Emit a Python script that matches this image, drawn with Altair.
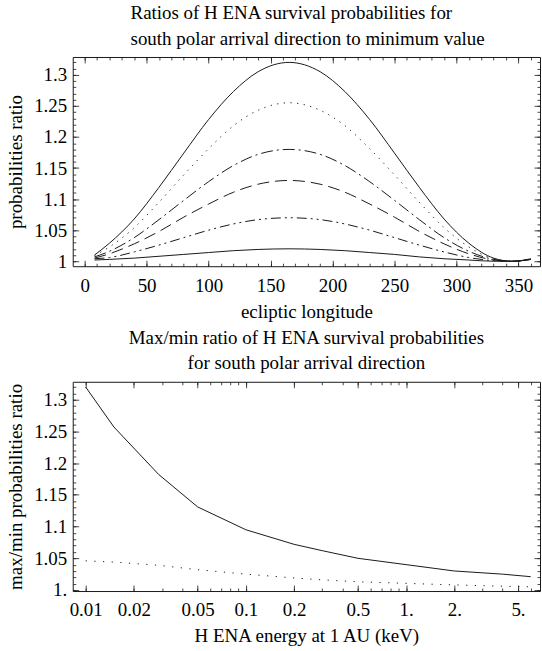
import altair as alt
import pandas as pd

# ---------------- data: top panel (ecliptic longitude vs ratio) ----------------
lon = [8, 20, 40, 60, 80, 100, 120, 140, 165, 190, 210, 230, 250, 270, 290, 310, 330, 345, 360]
ratio_a = [1.010, 1.029, 1.068, 1.119, 1.174, 1.228, 1.273, 1.305, 1.320, 1.305, 1.273, 1.228, 1.174, 1.119, 1.068, 1.029, 1.005, 1.000, 1.004]
ratio_b = [1.009, 1.023, 1.054, 1.095, 1.139, 1.181, 1.218, 1.243, 1.255, 1.243, 1.218, 1.181, 1.139, 1.095, 1.054, 1.023, 1.004, 1.000, 1.004]
ratio_c = [1.007, 1.016, 1.038, 1.067, 1.098, 1.128, 1.154, 1.172, 1.180, 1.172, 1.154, 1.128, 1.098, 1.067, 1.038, 1.016, 1.003, 1.000, 1.003]
ratio_d = [1.005, 1.012, 1.028, 1.048, 1.071, 1.092, 1.111, 1.124, 1.130, 1.124, 1.111, 1.092, 1.071, 1.048, 1.028, 1.012, 1.002, 1.000, 1.003]
ratio_e = [1.004, 1.006, 1.015, 1.026, 1.038, 1.050, 1.060, 1.067, 1.070, 1.067, 1.060, 1.050, 1.038, 1.026, 1.015, 1.006, 1.001, 1.000, 1.003]
ratio_f = [1.002, 1.003, 1.005, 1.008, 1.011, 1.014, 1.017, 1.019, 1.020, 1.019, 1.017, 1.014, 1.011, 1.007, 1.004, 1.002, 1.000, 1.000, 1.003]
series_names = ["a", "b", "c", "d", "e", "f"]

# ---------------- data: bottom panel (energy vs max/min ratio) ----------------
energy = [0.01, 0.015, 0.0286, 0.05, 0.1, 0.2, 0.3, 0.5, 1.0, 2.0, 4.0, 6.0]
maxmin_solid = [1.320, 1.257, 1.182, 1.131, 1.095, 1.072, 1.062, 1.050, 1.040, 1.030, 1.025, 1.021]
maxmin_dotted = [1.046, 1.044, 1.039, 1.032, 1.025, 1.019, 1.016, 1.013, 1.0105, 1.008, 1.006, 1.005]

# tick values
top_x_major = [0, 50, 100, 150, 200, 250, 300, 350]
top_x_minor = list(range(0, 370, 10))
y_major = [1.0, 1.05, 1.1, 1.15, 1.2, 1.25, 1.3]
y_minor = [round(1.0 + 0.01 * i, 2) for i in range(0, 33)]
bot_x_major = [0.01, 0.02, 0.05, 0.1, 0.2, 0.5, 1, 2, 5]
bot_x_minor = [round(m * d, 4) for d in (0.01, 0.1, 1) for m in range(1, 10) if m * d <= 6.5]

FONT = "Liberation Serif"
INK = "#1a1a1a"
LFS = 19    # tick labels
XTFS = 19   # x axis titles
YTFS = 19   # y axis titles
TFS = 19    # chart titles

rows = []
for name, vals in zip(series_names, [ratio_a, ratio_b, ratio_c, ratio_d, ratio_e, ratio_f]):
    for x, v in zip(lon, vals):
        rows.append({"lon": x, "ratio": v, "s": name})
top_df = pd.DataFrame(rows)

bot_df = pd.DataFrame(
    [{"e": x, "r": v, "s": "solid"} for x, v in zip(energy, maxmin_solid)]
    + [{"e": x, "r": v, "s": "dotted"} for x, v in zip(energy, maxmin_dotted)]
)

MAJ = 6
MIN = 3


def major_axis(orient, values, title=None, fmt=None, expr=None, labels=True, lp=8, tp=6, tfs=19):
    kw = dict(orient=orient, values=values, tickSize=MAJ, offset=-MAJ, domain=False,
              grid=False, labels=labels, tickColor=INK, tickWidth=0.8)
    if labels:
        kw.update(labelFont=FONT, labelFontSize=LFS, labelColor="black", labelPadding=lp,
                  labelFlush=False, labelOverlap=False)
        if fmt:
            kw["format"] = fmt
        if expr:
            kw["labelExpr"] = expr
    if title:
        kw.update(title=title, titleFont=FONT, titleFontSize=tfs, titleFontWeight="normal",
                  titleColor="black", titlePadding=tp)
    else:
        kw["title"] = None
    return alt.Axis(**kw)


def minor_axis(orient, values):
    return alt.Axis(orient=orient, values=values, tickSize=MIN, offset=-MIN, domain=False,
                    grid=False, labels=False, title=None, tickColor=INK, tickWidth=0.8)


# ---------------- top panel ----------------
tx = alt.Scale(domain=[-9.6, 367.4], nice=False, zero=False)
ty = alt.Scale(domain=[0.992, 1.3287], nice=False, zero=False)

dash = {"a": None, "b": [1.2, 5.5], "c": [12, 4, 2, 4], "d": [12, 6], "e": [10, 4, 2, 4, 2, 4], "f": None}

top_layers = []
for i, name in enumerate(series_names):
    mk = dict(color=INK, strokeWidth=1.0, interpolate="monotone", clip=True)
    if dash[name]:
        mk["strokeDash"] = dash[name]
    if i == 0:
        xa = major_axis("bottom", top_x_major, title="ecliptic longitude", fmt="d", lp=10, tp=7, tfs=XTFS)
        ya = major_axis("left", y_major, title="probabilities ratio", fmt=".2~f", lp=6, tp=8, tfs=YTFS)
        enc = dict(x=alt.X("lon:Q", scale=tx, axis=xa), y=alt.Y("ratio:Q", scale=ty, axis=ya))
    else:
        enc = dict(x=alt.X("lon:Q", scale=tx, axis=None), y=alt.Y("ratio:Q", scale=ty, axis=None))
    top_layers.append(
        alt.Chart(top_df).transform_filter(alt.datum.s == name).mark_line(**mk).encode(**enc)
    )

ghost = alt.Chart(top_df).mark_line(opacity=0)
top_layers.append(ghost.encode(x=alt.X("lon:Q", scale=tx, axis=minor_axis("bottom", top_x_minor)),
                               y=alt.Y("ratio:Q", scale=ty, axis=minor_axis("left", y_minor))))
top_layers.append(ghost.encode(x=alt.X("lon:Q", scale=tx, axis=major_axis("top", top_x_major, labels=False)),
                               y=alt.Y("ratio:Q", scale=ty, axis=major_axis("right", y_major, labels=False))))
top_layers.append(ghost.encode(x=alt.X("lon:Q", scale=tx, axis=minor_axis("top", top_x_minor)),
                               y=alt.Y("ratio:Q", scale=ty, axis=minor_axis("right", y_minor))))

top = alt.layer(*top_layers).resolve_axis(x="independent", y="independent").properties(
    width=469, height=210,
    title=alt.TitleParams(
        text=["Ratios of H ENA survival probabilities for",
              "south polar arrival direction to minimum value"],
        font=FONT, fontSize=TFS, fontWeight="normal", color="black",
        anchor="start", align="left", frame="group", dx=58, lineHeight=26, offset=8,
    ),
)

# ---------------- bottom panel ----------------
bx = alt.Scale(type="log", domain=[0.0083, 6.86], nice=False)
by = alt.Scale(domain=[0.9984, 1.3283], nice=False, zero=False)

bx_axis = major_axis("bottom", bot_x_major, title="H ENA energy at 1 AU (keV)", fmt=".2~f",
                     expr="datum.value >= 1 ? datum.label + '.' : datum.label", lp=10, tp=7, tfs=XTFS)
by_axis = major_axis("left", y_major, title="max/min probabilities ratio", fmt=".2~f",
                     expr="datum.value == 1 ? '1.' : datum.label", lp=6, tp=8, tfs=YTFS)

bbase = alt.Chart(bot_df)
bot_layers = [
    bbase.transform_filter(alt.datum.s == "solid").mark_line(color=INK, strokeWidth=1.0, clip=True).encode(
        x=alt.X("e:Q", scale=bx, axis=bx_axis), y=alt.Y("r:Q", scale=by, axis=by_axis)),
    bbase.transform_filter(alt.datum.s == "dotted").mark_line(color=INK, strokeWidth=1.0, strokeDash=[1.2, 7.5], clip=True).encode(
        x=alt.X("e:Q", scale=bx, axis=None), y=alt.Y("r:Q", scale=by, axis=None)),
]
bghost = bbase.mark_line(opacity=0)
bot_layers.append(bghost.encode(x=alt.X("e:Q", scale=bx, axis=minor_axis("bottom", bot_x_minor)),
                                y=alt.Y("r:Q", scale=by, axis=minor_axis("left", y_minor))))
bot_layers.append(bghost.encode(x=alt.X("e:Q", scale=bx, axis=major_axis("top", bot_x_major, labels=False)),
                                y=alt.Y("r:Q", scale=by, axis=major_axis("right", y_major, labels=False))))
bot_layers.append(bghost.encode(x=alt.X("e:Q", scale=bx, axis=minor_axis("top", bot_x_minor)),
                                y=alt.Y("r:Q", scale=by, axis=minor_axis("right", y_minor))))

bottom = alt.layer(*bot_layers).resolve_axis(x="independent", y="independent").properties(
    width=469, height=210,
    title=alt.TitleParams(
        text=["Max/min ratio of H ENA survival probabilities",
              "for south polar arrival direction"],
        font=FONT, fontSize=TFS, fontWeight="normal", color="black",
        anchor="middle", frame="group", lineHeight=26, offset=8,
    ),
)

chart = (
    alt.vconcat(top, bottom, spacing=6)
    .properties(padding={"left": 6, "top": 2, "right": 1, "bottom": 2}, background="white")
    .configure_view(stroke=INK, strokeWidth=1)
    .configure_axis(labelFont=FONT, titleFont=FONT)
    .configure_title(font=FONT)
)

chart.save("out.html", embed_options={"renderer": "svg", "actions": False})
